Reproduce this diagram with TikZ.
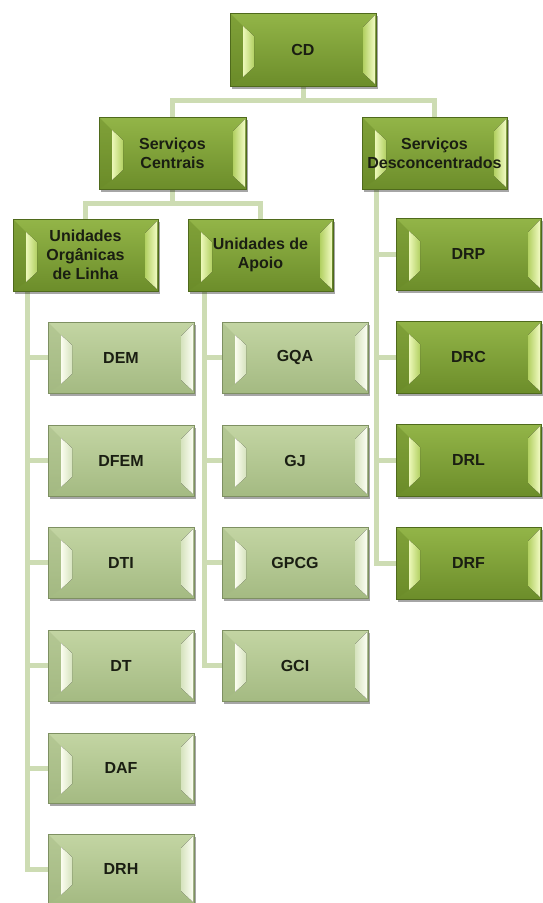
\documentclass[tikz,border=0pt]{standalone}
\usepackage{fontspec}
\setmainfont{Liberation Sans}
\usetikzlibrary{calc,shadows}
\pgfdeclarelayer{back}
\pgfdeclarelayer{bg}
\pgfsetlayers{back,bg,main}
\definecolor{topA}{HTML}{93B548}
\definecolor{topB}{HTML}{6C8D2A}
\definecolor{topEdge}{HTML}{4F6A1C}
\definecolor{topRim}{HTML}{6A8A28}
\definecolor{topHLa}{HTML}{ECF8B8}
\definecolor{topHLb}{HTML}{B2D062}
\definecolor{topHLc}{HTML}{F2FBC4}
\definecolor{leafA}{HTML}{C3D5A3}
\definecolor{leafB}{HTML}{A4BA82}
\definecolor{leafEdge}{HTML}{7E9062}
\definecolor{leafRim}{HTML}{A3B882}
\definecolor{leafHLa}{HTML}{FBFDF0}
\definecolor{leafHLb}{HTML}{D6E3BE}
\definecolor{leafHLc}{HTML}{FCFEF4}
\definecolor{connC}{HTML}{CDDCB3}
\definecolor{txt}{HTML}{1A1E12}
\tikzset{
  bevelpic/.style n args={4}{path picture={
    \fill[#1, opacity=0.45] let \p1=(path picture bounding box.north west),\p2=(path picture bounding box.south east) in
      (\x1,\y1) -- (\x1+13pt,\y1-13pt) -- (\x1+13pt,\y2+9pt) -- (\x1,\y2) -- cycle;
    \fill[left color=#2, right color=#3] let \p1=(path picture bounding box.north west),\p2=(path picture bounding box.south east) in
      (\x1+13pt,\y1-13pt) -- (\x1+24pt,\y1-23pt) -- (\x1+24pt,\y2+19pt) -- (\x1+13pt,\y2+9pt) -- cycle;
    \fill[left color=#3, right color=#4] let \p1=(path picture bounding box.north west),\p2=(path picture bounding box.south east) in
      (\x2-1pt,\y1-2pt) -- (\x2-13pt,\y1-14pt) -- (\x2-13pt,\y2+13pt) -- (\x2-1pt,\y2+2pt) -- cycle;
  }},
  boxbase/.style={line width=0.6pt, inner sep=0pt, align=center, text=txt,
    font=\fontsize{16}{19}\selectfont\bfseries,
    drop shadow={shadow xshift=1.5pt, shadow yshift=-2.5pt, opacity=0.35, fill=black}},
  topbox/.style={boxbase, draw=topEdge, top color=topA, bottom color=topB,
    bevelpic={topRim}{topHLa}{topHLb}{topHLc}},
  leafbox/.style={boxbase, draw=leafEdge, top color=leafA, bottom color=leafB,
    bevelpic={leafRim}{leafHLa}{leafHLb}{leafHLc}},
  conn/.style={draw=connC, line width=5pt}
}
\newcommand\obox[7]{\node[#6, minimum width={(#4-#2)*1pt}, minimum height={(#5-#3)*1pt}] (#1) at ({(#2+#4)/2},{(#3+#5)/2}) {#7};}
\begin{document}
\begin{tikzpicture}[x=1pt,y=-1pt]
\useasboundingbox (0,0) rectangle (542,903);
\begin{pgfonlayer}{back}
\fill[white] (0,0) rectangle (542,903);
\end{pgfonlayer}
\obox{cd}{230}{13}{376}{86}{topbox}{CD}
\obox{sc}{99}{117}{246}{189}{topbox}{Serviços\\Centrais}
\obox{sd}{362}{117}{507}{189}{topbox}{Serviços\\Desconcentrados}
\obox{uol}{13}{219}{158}{291}{topbox}{Unidades\\Orgânicas\\de Linha}
\obox{ua}{188}{219}{333}{291}{topbox}{Unidades de\\Apoio}
\obox{dem}{48}{322}{194}{393}{leafbox}{DEM}
\obox{dfem}{48}{425}{194}{496}{leafbox}{DFEM}
\obox{dti}{48}{527}{194}{598}{leafbox}{DTI}
\obox{dt}{48}{630}{194}{701}{leafbox}{DT}
\obox{daf}{48}{733}{194}{803}{leafbox}{DAF}
\obox{drh}{48}{834}{194}{904}{leafbox}{DRH}
\obox{gqa}{222}{322}{368}{393}{leafbox}{GQA}
\obox{gj}{222}{425}{368}{496}{leafbox}{GJ}
\obox{gpcg}{222}{527}{368}{598}{leafbox}{GPCG}
\obox{gci}{222}{630}{368}{701}{leafbox}{GCI}
\obox{drp}{396}{218}{541}{290}{topbox}{DRP}
\obox{drc}{396}{321}{541}{393}{topbox}{DRC}
\obox{drl}{396}{424}{541}{496}{topbox}{DRL}
\obox{drf}{396}{527}{541}{599}{topbox}{DRF}
\begin{pgfonlayer}{bg}
\draw[conn] (cd.south) -- ++(0,14) -| (sc.north);
\draw[conn] (cd.south) -- ++(0,14) -| (sd.north);
\draw[conn] (sc.south) -- ++(0,14) -| (uol.north);
\draw[conn] (sc.south) -- ++(0,14) -| (ua.north);
\foreach \c in {dem,dfem,dti,dt,daf,drh} \draw[conn] ($(uol.south west)+(15,0)$) |- (\c.west);
\foreach \c in {gqa,gj,gpcg,gci} \draw[conn] ($(ua.south west)+(17,0)$) |- (\c.west);
\foreach \c in {drp,drc,drl,drf} \draw[conn] ($(sd.south west)+(15,0)$) |- (\c.west);
\end{pgfonlayer}
\end{tikzpicture}
\end{document}
